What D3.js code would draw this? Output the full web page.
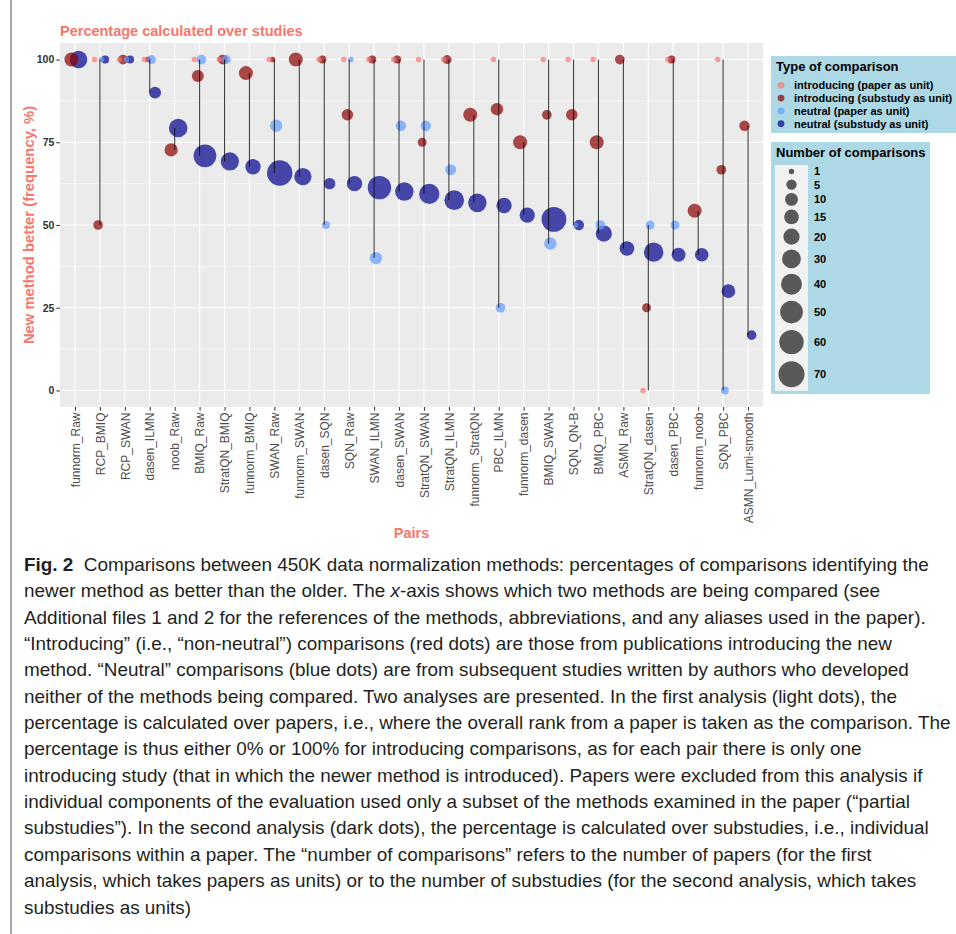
<!DOCTYPE html>
<html>
<head>
<meta charset="utf-8">
<script src="https://cdn.jsdelivr.net/npm/d3@7"></script>
<style>
  body { margin: 0; background: #fff; }
  svg { display: block; font-family: "Liberation Sans", Arial, sans-serif; }
</style>
</head>
<body>
<div id="chart"></div>
<script>
/* ──────────────────────────────────────────────
   Fig. 2 — new method better vs older, per pair
   colour = type of comparison, size = n comparisons
   ────────────────────────────────────────────── */

const pairs = [
  'funnorm_Raw', 'RCP_BMIQ', 'RCP_SWAN', 'dasen_ILMN', 'noob_Raw', 'BMIQ_Raw',
  'StratQN_BMIQ', 'funnorm_BMIQ', 'SWAN_Raw', 'funnorm_SWAN', 'dasen_SQN', 'SQN_Raw',
  'SWAN_ILMN', 'dasen_SWAN', 'StratQN_SWAN', 'StratQN_ILMN', 'funnorm_StratQN', 'PBC_ILMN',
  'funnorm_dasen', 'BMIQ_SWAN', 'SQN_QN-B', 'BMIQ_PBC', 'ASMN_Raw', 'StratQN_dasen',
  'dasen_PBC', 'funnorm_noob', 'SQN_PBC', 'ASMN_Lumi-smooth'
];

// % new method better, null = no comparison of that type
const introPaperPct = [null, 100, 100, 100, null, 100, 100, null, 100, null, 100, 100, 100, 100,
  100, 100, null, 100, null, 100, 100, 100, null, 0, 100, null, 100, null];
const introPaperN = [null, 1, 1, 1, null, 1, 1, null, 1, null, 1, 1, 1, 1,
  1, 1, null, 1, null, 1, 1, 1, null, 1, 1, null, 1, null];

const introSubPct = [100, 50, 100, 100, 72.7, 95, 100, 95.9, 100, 100, 100, 83.3, 100, 100,
  75, 100, 83.3, 85, 75, 83.3, 83.3, 75, 100, 25, 100, 54.3, 66.7, 80];
const introSubN = [13, 4, 4, 1, 11, 8, 4, 13, 1, 13, 2, 7, 2, 2,
  3, 3, 13, 9, 13, 4, 7, 13, 4, 3, 2, 13, 4, 5];

const neutralPaperPct = [null, 100, 100, 100, null, 100, 100, null, 80, null, 50, 100, 40, 80,
  80, 66.7, null, 25, null, 44.4, 50, 50, null, 50, 50, null, 0, null];
const neutralPaperN = [null, 1, 1, 3, null, 4, 3, null, 9, null, 2, 1, 9, 5,
  5, 6, null, 4, null, 9, 1, 4, null, 3, 3, null, 2, null];

const neutralSubPct = [100, 100, 100, 90, 79.3, 70.9, 69.2, 67.6, 65.7, 64.6, 62.5, 62.5, 61.3, 60.1,
  59.4, 57.5, 56.7, 55.9, 53, 51.7, 50, 47.4, 42.9, 41.8, 41, 41, 30, 16.7];
const neutralSubN = [25, 2, 2, 8, 29, 50, 28, 17, 66, 24, 7, 17, 54, 29,
  37, 34, 29, 17, 17, 62, 5, 20, 15, 33, 13, 12, 12, 4];

const typeLabels = [
  'introducing (paper as unit)', 'introducing (substudy as unit)',
  'neutral (paper as unit)', 'neutral (substudy as unit)'
];
const typeColors = ['#F8766D', '#8B0000', '#619CFF', '#00008B'];
const sizeBreaks = [1, 5, 10, 15, 20, 30, 40, 50, 60, 70];
const yTicks = [0, 25, 50, 75, 100];
const yMinorTicks = [12.5, 37.5, 62.5, 87.5];

const captionLines = [
  [['Fig. 2', 'b'], ['  Comparisons between 450K data normalization methods: percentages of comparisons identifying the']],
  [['newer method as better than the older. The '], ['x', 'i'], ['-axis shows which two methods are being compared (see']],
  [['Additional files 1 and 2 for the references of the methods, abbreviations, and any aliases used in the paper).']],
  [['\u201CIntroducing\u201D (i.e., \u201Cnon-neutral\u201D) comparisons (red dots) are those from publications introducing the new']],
  [['method. \u201CNeutral\u201D comparisons (blue dots) are from subsequent studies written by authors who developed']],
  [['neither of the methods being compared. Two analyses are presented. In the first analysis (light dots), the']],
  [['percentage is calculated over papers, i.e., where the overall rank from a paper is taken as the comparison. The']],
  [['percentage is thus either 0% or 100% for introducing comparisons, as for each pair there is only one']],
  [['introducing study (that in which the newer method is introduced). Papers were excluded from this analysis if']],
  [['individual components of the evaluation used only a subset of the methods examined in the paper (\u201Cpartial']],
  [['substudies\u201D). In the second analysis (dark dots), the percentage is calculated over substudies, i.e., individual']],
  [['comparisons within a paper. The \u201Cnumber of comparisons\u201D refers to the number of papers (for the first']],
  [['analysis, which takes papers as units) or to the number of substudies (for the second analysis, which takes']],
  [['substudies as units)']]
];

// ── build long-format records ──
const seriesPct = [introPaperPct, introSubPct, neutralPaperPct, neutralSubPct];
const seriesN = [introPaperN, introSubN, neutralPaperN, neutralSubN];
const records = [];
pairs.forEach((p, i) => {
  const present = [0, 1, 2, 3].filter(s => seriesPct[s][i] != null);
  present.forEach((s, k) => {
    records.push({ pair: p, type: s, pct: seriesPct[s][i], n: seriesN[s][i], k, m: present.length });
  });
});

// ── layout ──
const width = 956, height = 934;
const margin = { left: 60, top: 43 };
const W = 703, H = 364;
const salmon = '#F8766D';

const svg = d3.select('#chart').append('svg')
  .attr('width', width).attr('height', height);

svg.append('rect').attr('width', width).attr('height', height).attr('fill', '#fff');

// figure frame (left rule)
svg.append('line')
  .attr('x1', 11).attr('x2', 11).attr('y1', 0).attr('y2', height)
  .attr('stroke', '#8a8a8a').attr('stroke-width', 1.5);

const g = svg.append('g').attr('transform', `translate(${margin.left},${margin.top})`);

const x = d3.scalePoint().domain(pairs).range([0, W]).padding(0.6);
const y = d3.scaleLinear().domain([-5, 105]).range([H, 0]);
const r = d3.scaleSqrt().domain([0, 69]).range([2.7, 13]);   // applied to n - 1
const dodge = 0.57 * x.step();

// panel
g.append('rect').attr('width', W).attr('height', H).attr('fill', '#EBEBEB');

g.append('g').selectAll('line').data(yMinorTicks).join('line')
  .attr('x1', 0).attr('x2', W)
  .attr('y1', d => y(d)).attr('y2', d => y(d))
  .attr('stroke', '#fff').attr('stroke-width', 0.55);

g.append('g').selectAll('line').data(yTicks).join('line')
  .attr('x1', 0).attr('x2', W)
  .attr('y1', d => y(d)).attr('y2', d => y(d))
  .attr('stroke', '#fff').attr('stroke-width', 1.1);

g.append('g').selectAll('line').data(pairs).join('line')
  .attr('x1', d => x(d)).attr('x2', d => x(d))
  .attr('y1', 0).attr('y2', H)
  .attr('stroke', '#fff').attr('stroke-width', 1.1);

// points — drawn substudy-level first, paper-level on top
const drawOrder = [3, 1, 2, 0];
const ordered = drawOrder.flatMap(t => records.filter(d => d.type === t));

g.append('g').selectAll('circle').data(ordered).join('circle')
  .attr('cx', d => x(d.pair) + ((d.k + 0.5) / d.m - 0.5) * dodge)
  .attr('cy', d => y(d.pct))
  .attr('r', d => r(d.n - 1))
  .attr('fill', d => typeColors[d.type])
  .attr('opacity', 0.7);

// range line per pair
const ranges = pairs.map(p => {
  const vals = records.filter(d => d.pair === p).map(d => d.pct);
  return { pair: p, lo: d3.min(vals), hi: d3.max(vals) };
});
g.append('g').selectAll('line').data(ranges).join('line')
  .attr('x1', d => x(d.pair)).attr('x2', d => x(d.pair))
  .attr('y1', d => y(d.hi)).attr('y2', d => y(d.lo))
  .attr('stroke', '#000').attr('stroke-opacity', 0.75).attr('stroke-width', 1.1);

// axes
const xAxis = g.append('g').attr('transform', `translate(0,${H})`)
  .call(d3.axisBottom(x).tickSize(3.7).tickPadding(2));
xAxis.select('.domain').remove();
xAxis.selectAll('line').attr('stroke', '#333');
xAxis.selectAll('text')
  .attr('transform', 'rotate(-90)')
  .attr('text-anchor', 'end')
  .attr('x', -5.5).attr('y', 0).attr('dy', '0.35em')
  .attr('fill', '#4D4D4D')
  .style('font-size', '12px')
  .style('font-family', '"Liberation Sans", Arial, sans-serif');

const yAxis = g.append('g')
  .call(d3.axisLeft(y).tickValues(yTicks).tickSize(3.7).tickPadding(2));
yAxis.select('.domain').remove();
yAxis.selectAll('line').attr('stroke', '#333');
yAxis.selectAll('text')
  .attr('fill', '#333')
  .style('font-size', '10.5px')
  .style('font-weight', 'bold')
  .style('font-family', '"Liberation Sans", Arial, sans-serif');

// titles
svg.append('text')
  .attr('x', 60).attr('y', 36)
  .attr('fill', salmon).style('font-size', '14.5px').style('font-weight', 'bold')
  .text('Percentage calculated over studies');

svg.append('text')
  .attr('transform', `translate(33.5,${margin.top + H / 2}) rotate(-90)`)
  .attr('text-anchor', 'middle')
  .attr('fill', salmon).style('font-size', '14.8px').style('font-weight', 'bold')
  .text('New method better (frequency, %)');

svg.append('text')
  .attr('x', margin.left + W / 2).attr('y', 538)
  .attr('text-anchor', 'middle')
  .attr('fill', salmon).style('font-size', '14.5px').style('font-weight', 'bold')
  .text('Pairs');

// legend: type of comparison
const lg1 = svg.append('g');
lg1.append('rect').attr('x', 771).attr('y', 56).attr('width', 200).attr('height', 77).attr('fill', '#ADD8E6');
lg1.append('text').attr('x', 776).attr('y', 70.5)
  .style('font-size', '13px').style('font-weight', 'bold').text('Type of comparison');
typeLabels.forEach((lab, i) => {
  const cy = 85.3 + i * 12.8;
  lg1.append('circle').attr('cx', 781).attr('cy', cy).attr('r', 3.4)
    .attr('fill', typeColors[i]).attr('opacity', 0.7);
  lg1.append('text').attr('x', 794).attr('y', cy).attr('dy', '0.36em')
    .style('font-size', '11px').style('font-weight', 'bold').text(lab);
});

// legend: number of comparisons
const lg2 = svg.append('g');
lg2.append('rect').attr('x', 771).attr('y', 142).attr('width', 159).attr('height', 252).attr('fill', '#ADD8E6');
lg2.append('text').attr('x', 776).attr('y', 157)
  .style('font-size', '13px').style('font-weight', 'bold').text('Number of comparisons');
let keyY = 165;
const keys = sizeBreaks.map(b => {
  const rad = r(b - 1);
  const h = Math.max(13, 2.55 * rad);
  const k = { b, rad, cy: keyY + h / 2 };
  keyY += h;
  return k;
});
lg2.append('rect').attr('x', 775).attr('y', 165).attr('width', 33).attr('height', keyY - 165).attr('fill', '#F2F2F2');
lg2.selectAll('circle').data(keys).join('circle')
  .attr('cx', 791.5).attr('cy', d => d.cy).attr('r', d => d.rad)
  .attr('fill', '#000').attr('opacity', 0.63);
lg2.selectAll('text.lab').data(keys).join('text').attr('class', 'lab')
  .attr('x', 814).attr('y', d => d.cy).attr('dy', '0.36em')
  .style('font-size', '11px').style('font-weight', 'bold').text(d => d.b);

// caption — condensed look: squeeze horizontally so the longest line fits the column
const cap = svg.append('g')
  .style('font-family', '"Liberation Sans Narrow", "Liberation Sans", Arial, sans-serif')
  .style('font-size', '18px').attr('fill', '#231F20');
const capTexts = captionLines.map((segs, i) => {
  const t = cap.append('text').attr('x', 0).attr('y', 571 + i * 26.35)
    .style('white-space', 'pre');
  segs.forEach(([s, f]) => {
    const ts = t.append('tspan').text(s);
    if (f === 'b') ts.style('font-weight', 'bold');
    if (f === 'i') ts.style('font-style', 'italic');
  });
  return t;
});
const maxW = d3.max(capTexts, t => t.node().getComputedTextLength());
const sx = 927 / maxW;
cap.attr('transform', `translate(24,0) scale(${sx},1)`);
</script>
</body>
</html>
